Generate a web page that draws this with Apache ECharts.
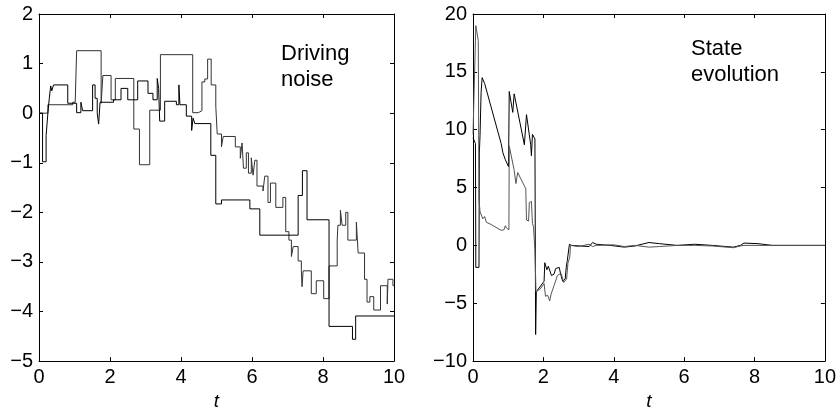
<!DOCTYPE html>
<html lang="en">
<head>
    <meta charset="UTF-8">
    <title>Driving noise / State evolution</title>
    <script src="https://cdn.jsdelivr.net/npm/echarts@6/dist/echarts.min.js"></script>
    <style>
        html, body { margin: 0; padding: 0; background: #fff; }
    </style>
</head>
<body>
<div id="main" style="width: 839px;height:416px;"></div>
<script>
    // 左图：驱动噪声（阶梯），[t, 值]
    var noiseA = [
        [0, 0], [0.25, 0.17], [0.95, 0.22], [1.02, 0.2], [1.06, 1.26], [1.75, 0.2], [1.80, 0.76],
        [2.03, 0.27], [2.15, 0.7], [2.67, -0.32], [2.83, -1.04], [3.12, 0.06], [3.42, 1.18],
        [4.33, 0.01], [4.49, 0.05], [4.59, 0.63], [4.67, 0.69], [4.75, 1.09], [4.85, 0.57],
        [4.98, 0.14], [5.02, -0.42], [5.14, -0.68], [5.19, -0.47], [5.53, -0.68], [5.67, -0.91],
        [5.72, -0.6], [5.76, -1.11], [5.84, -0.8], [5.90, -1.21], [5.98, -0.9], [6.03, -1.25],
        [6.08, -0.95], [6.14, -1.47], [6.31, -1.57], [6.36, -1.27], [6.45, -1.8], [6.52, -1.41],
        [6.67, -1.90], [6.87, -1.70], [6.95, -2.39], [7.04, -2.56], [7.11, -2.89], [7.16, -2.69],
        [7.30, -2.98], [7.39, -3.18], [7.41, -3.5], [7.44, -3.18], [7.67, -3.64], [7.81, -3.38],
        [8.02, -3.74], [8.17, -3.08], [8.40, -2.56], [8.42, -2.26], [8.49, -1.96], [8.54, -2.26],
        [8.64, -2.0], [8.70, -2.56], [8.94, -2.2], [8.99, -2.82], [9.17, -3.35], [9.24, -3.81],
        [9.32, -3.7], [9.43, -3.97], [9.62, -3.48], [9.81, -3.85], [9.83, -3.35], [9.97, -3.48],
        [10, -3.48]
    ];
    var noiseB = [
        [0, 0], [0.10, -0.98], [0.20, -0.45], [0.25, 0.0], [0.29, 0.3], [0.33, 0.55], [0.36, 0.45],
        [0.41, 0.57], [0.81, 0.2], [1.06, 0.01], [1.18, 0.22], [1.23, 0.05], [1.51, 0.57],
        [1.58, 0.3], [1.64, 0.0], [1.68, -0.22], [1.72, 0.22], [2.10, 0.27], [2.31, 0.5],
        [2.50, 0.27], [2.78, 0.65], [3.07, 0.40], [3.21, 0.27], [3.33, 0.7], [3.37, 0.5],
        [3.40, -0.16], [3.54, 0.24], [3.87, 0.17], [3.94, 0.57], [3.97, 0.17], [4.15, -0.06],
        [4.30, -0.35], [4.34, -0.1], [4.39, -0.21], [4.84, -0.85], [4.98, -1.83], [5.14, -1.75],
        [5.94, -1.93], [6.22, -2.46], [7.30, -1.66], [7.42, -1.16], [7.55, -2.15], [8.17, -4.30],
        [8.83, -4.56], [8.92, -4.09], [10, -4.09]
    ];
    // 右图：状态演化
    var stateA = [
        [0, 9.3], [0.07, 8.8], [0.08, -1.9], [0.17, -1.9], [0.18, 8.0], [0.20, 9.5], [0.23, 13.2],
        [0.26, 14.5], [0.33, 14.0], [0.80, 8.8], [0.85, 8.0], [0.92, 7.4], [1.01, 6.8], [1.03, 13.3],
        [1.13, 11.5], [1.17, 13.1], [1.46, 8.7], [1.52, 11.3], [1.64, 8.7], [1.66, 7.75], [1.69, 9.6],
        [1.76, 9.2], [1.78, -7.7], [1.80, -4.0], [2.02, -3.1], [2.04, -1.5], [2.10, -2.1], [2.14, -1.8],
        [2.23, -2.6], [2.30, -2.5], [2.35, -2.0], [2.45, -1.9], [2.50, -2.6], [2.55, -3.1], [2.62, -2.9],
        [2.65, -1.9], [2.68, -1.3], [2.72, -1.2], [2.74, 0.1], [2.80, 0.0], [3.05, -0.05], [3.30, -0.1],
        [3.40, 0.25], [3.50, 0.1], [3.90, 0.0], [4.30, -0.15], [4.60, -0.05], [5.00, 0.25], [5.30, 0.15],
        [5.80, 0.0], [6.30, 0.1], [6.80, 0.0], [7.40, -0.15], [7.60, 0.0], [7.70, 0.2], [8.10, 0.15],
        [8.50, 0.0], [10, 0.0]
    ];
    var stateB = [
        [0, 9.6], [0.08, 19.0], [0.15, 17.7], [0.17, 4.0], [0.20, 2.9], [0.24, 3.0], [0.28, 2.3],
        [0.33, 2.5], [0.38, 2.0], [0.52, 1.8], [0.80, 1.3], [0.88, 1.35], [0.92, 1.7], [0.95, 1.5],
        [1.02, 1.35], [1.03, 8.6], [1.17, 6.5], [1.22, 5.35], [1.27, 6.3], [1.50, 4.9], [1.52, 2.2],
        [1.58, 2.1], [1.60, 3.7], [1.66, 3.8], [1.69, 1.9], [1.72, 1.6], [1.76, -0.5], [1.79, -4.0],
        [1.90, -3.8], [2.02, -3.3], [2.06, -4.4], [2.12, -4.3], [2.18, -4.8], [2.22, -4.2], [2.30, -3.5],
        [2.40, -2.6], [2.50, -2.4], [2.58, -3.2], [2.66, -2.9], [2.70, -1.5], [2.75, -1.0], [2.77, 0.0],
        [3.00, -0.1], [3.30, 0.1], [3.40, -0.1], [3.50, 0.0], [4.00, 0.05], [4.30, -0.1], [4.60, 0.0],
        [5.00, -0.15], [5.30, -0.1], [5.80, 0.0], [6.30, 0.0], [6.80, -0.05], [7.40, -0.2], [7.60, -0.05],
        [7.70, 0.0], [8.10, 0.0], [8.50, 0.0], [10, 0.0]
    ];
    var leftRange = [-5, 2, 1];
    var rightRange = [-10, 20, 5];

    var font = 'Liberation Sans';
    function minus(v) {
        return String(v).replace('-', '\u2212');
    }
    // 底部x轴 + 顶部镜像轴
    function xAxes(g) {
        return [{
            type: 'value', gridIndex: g, min: 0, max: 10, interval: 2, position: 'bottom',
            axisLine: {show: true, onZero: false, lineStyle: {color: '#000', width: 1}},
            axisTick: {inside: true, length: 4, lineStyle: {color: '#000'}},
            axisLabel: {fontSize: 20, fontFamily: font, color: '#000', margin: 6},
            splitLine: {show: false},
            name: 't', nameLocation: 'middle', nameGap: 28,
            nameTextStyle: {fontSize: 19, fontStyle: 'italic', fontFamily: font, color: '#000'}
        }, {
            type: 'value', gridIndex: g, min: 0, max: 10, interval: 2, position: 'top',
            axisLine: {show: true, onZero: false, lineStyle: {color: '#000', width: 1}},
            axisTick: {inside: true, length: 4, lineStyle: {color: '#000'}},
            axisLabel: {show: false}, splitLine: {show: false}
        }];
    }
    function yAxes(g, r) {
        return [{
            type: 'value', gridIndex: g, min: r[0], max: r[1], interval: r[2], position: 'left',
            axisLine: {show: true, onZero: false, lineStyle: {color: '#000', width: 1}},
            axisTick: {inside: true, length: 4, lineStyle: {color: '#000'}},
            axisLabel: {fontSize: 20, fontFamily: font, color: '#000', margin: 6, formatter: minus},
            splitLine: {show: false}
        }, {
            type: 'value', gridIndex: g, min: r[0], max: r[1], interval: r[2], position: 'right',
            axisLine: {show: true, onZero: false, lineStyle: {color: '#000', width: 1}},
            axisTick: {inside: true, length: 4, lineStyle: {color: '#000'}},
            axisLabel: {show: false}, splitLine: {show: false}
        }];
    }
    function line(name, data, xi, yi, color, step) {
        return {
            name: name, type: 'line', data: data, xAxisIndex: xi, yAxisIndex: yi,
            step: step, showSymbol: false, symbol: 'none', animation: false,
            lineStyle: {color: color, width: 1}
        };
    }

    var app = echarts.init(document.getElementById('main'));
    var option = {
        backgroundColor: '#fff',
        animation: false,
        grid: [
            {left: 39, top: 14, width: 355, height: 355},
            {left: 473, top: 14, width: 355, height: 355}
        ],
        xAxis: xAxes(0).concat(xAxes(1)),
        yAxis: yAxes(0, leftRange).concat(yAxes(1, rightRange)),
        series: [
            line('noiseA', noiseA, 0, 0, '#333', 'end'),
            line('noiseB', noiseB, 0, 0, '#000', 'end'),
            line('stateA', stateA, 2, 2, '#000', false),
            line('stateB', stateB, 2, 2, '#555', false)
        ],
        graphic: [
            {type: 'text', left: 281, top: 41,
                style: {text: 'Driving\nnoise', font: '22px ' + font, lineHeight: 26, fill: '#000'}},
            {type: 'text', left: 691, top: 36,
                style: {text: 'State\nevolution', font: '22px ' + font, lineHeight: 26, fill: '#000'}}
        ]
    };
    app.setOption(option);
</script>
</body>
</html>
